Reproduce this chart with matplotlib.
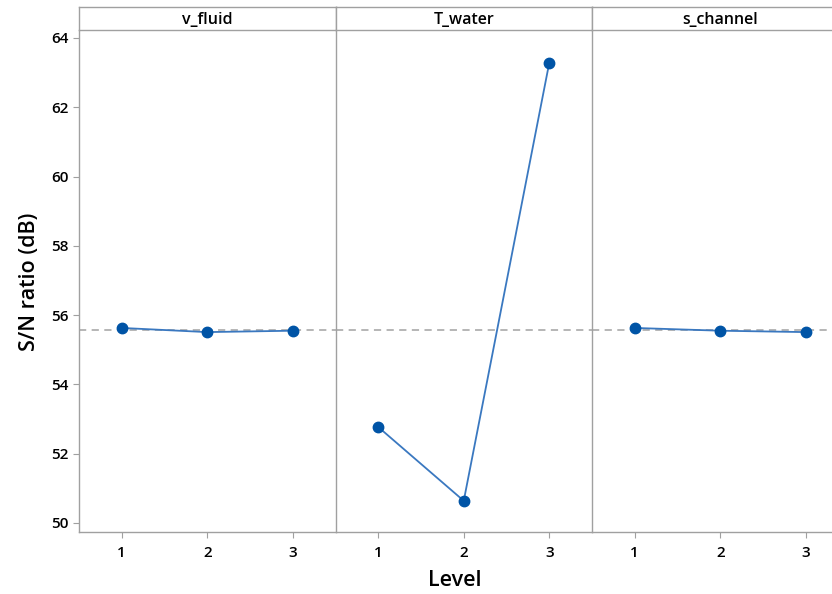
import numpy as np
import matplotlib.pyplot as plt

plt.rcParams['font.family'] = ['Open Sans', 'DejaVu Sans']

# Main effects for S/N ratios
factors = ['v_fluid', 'T_water', 's_channel']
levels = [1, 2, 3]
v_fluid = [55.63, 55.51, 55.55]
T_water = [52.77, 50.64, 63.28]
s_channel = [55.63, 55.55, 55.51]
series = [v_fluid, T_water, s_channel]
grand_mean = 55.56

fig = plt.figure(figsize=(8.32, 5.94), dpi=100)

W, H = 832, 594
left, top, bottom = 79, 30, 532
panel_w = 256.5
strip_h = 23
edge = '#a0a0a0'

for i, (name, vals) in enumerate(zip(factors, series)):
    x0 = left + i * panel_w
    ax = fig.add_axes([x0 / W, (H - bottom) / H, panel_w / W, (bottom - top) / H])
    ax.axhline(grand_mean, color='#b0b0b0', ls='--', lw=1.3, dashes=(4, 3), zorder=1)
    ax.plot(levels, vals, color='#3a78c0', lw=1.3, marker='o', ms=7.5,
            mfc='#0054a6', mec='#0054a6', zorder=3)
    ax.set_xlim(0.5, 3.5)
    ax.set_ylim(49.74, 64.23)
    ax.set_xticks(levels)
    ax.set_yticks(np.arange(50, 65, 2))
    ax.tick_params(axis='x', length=4, color=edge, labelsize=11, pad=6)
    ax.tick_params(axis='y', length=4, color=edge, labelsize=11)
    for lab in ax.get_xticklabels() + ax.get_yticklabels():
        lab.set_fontweight('semibold')
    if i > 0:
        ax.tick_params(axis='y', left=False, labelleft=False)
    for s in ax.spines.values():
        s.set_color(edge)
        s.set_linewidth(1.0)
    ax.spines['top'].set_visible(False)
    if i < 2:
        ax.spines['right'].set_visible(False)

    # strip header
    sx = fig.add_axes([x0 / W, (H - top) / H, panel_w / W, strip_h / H])
    sx.set_xticks([])
    sx.set_yticks([])
    for s in sx.spines.values():
        s.set_color(edge)
        s.set_linewidth(1.0)
    sx.text(0.5, 0.45, name, ha='center', va='center', fontsize=11.5,
            fontweight='semibold', transform=sx.transAxes)

fig.text(30 / W, 1 - 282 / H, 'S/N ratio (dB)', rotation=90, ha='center', va='center',
         fontsize=15.5, fontweight='semibold')
fig.text(455 / W, 1 - 580 / H, 'Level', ha='center', va='center', fontsize=15.5,
         fontweight='semibold')

fig.savefig('out.png', dpi=100)
